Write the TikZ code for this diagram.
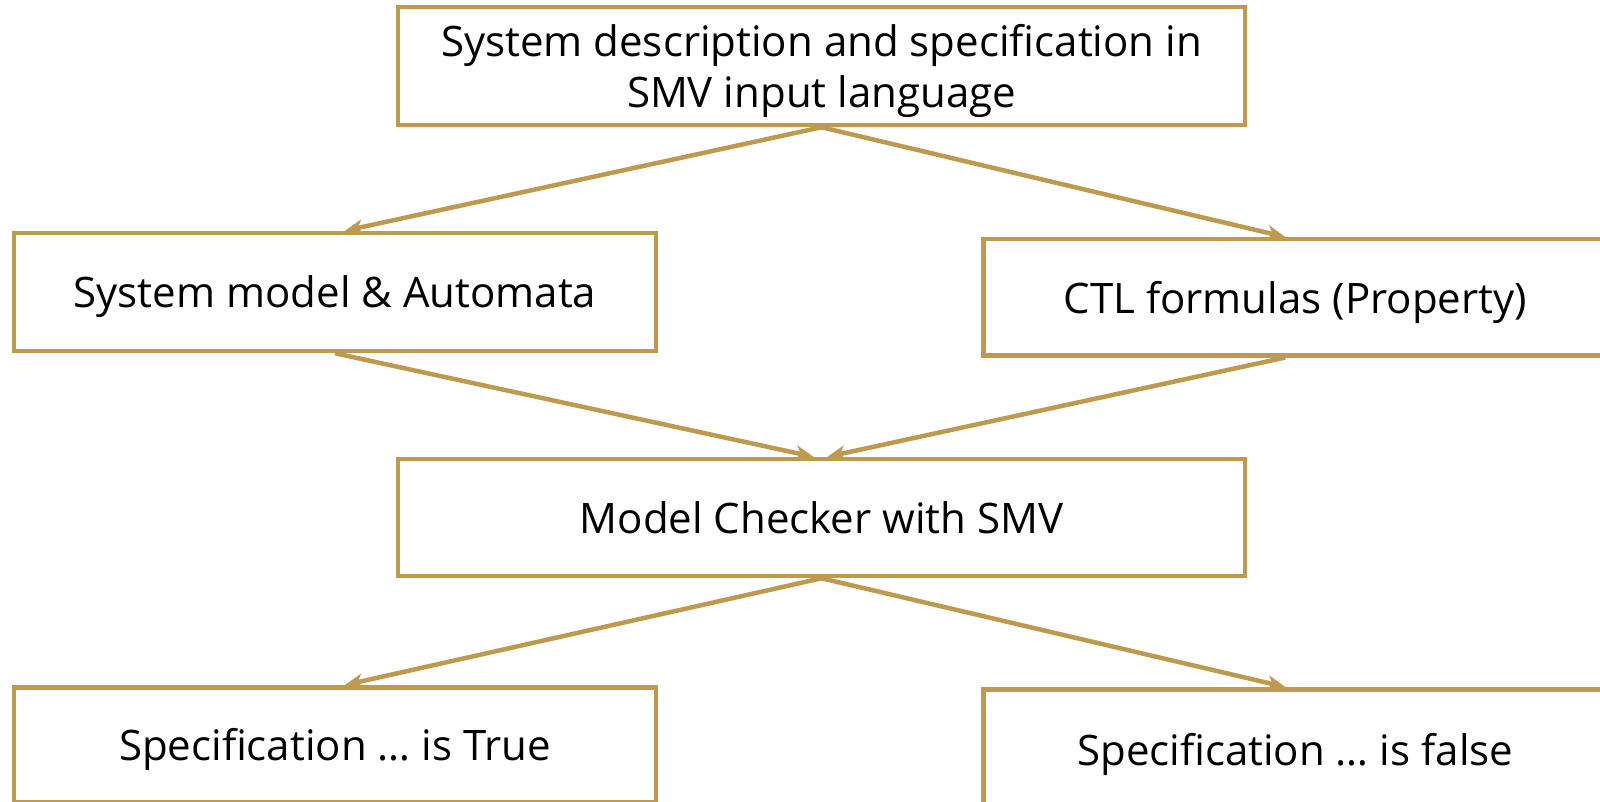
\documentclass[tikz,border=0pt]{standalone}
\usepackage{fontspec}
\setmainfont{Open Sans}
\usetikzlibrary{arrows.meta}
\definecolor{gold}{HTML}{BF9A4E}
\tikzset{
  box/.style={draw=gold, line width=4.5pt, fill=white, inner sep=0pt, align=center, text depth=0pt, font=\fontsize{42}{51}\selectfont},
  conn/.style={draw=gold, line width=4.5pt, -{Stealth[length=18pt,width=15pt,inset=5pt]}}
}
\begin{document}
\begin{tikzpicture}[x=1pt,y=-1pt]
\useasboundingbox (0,0) rectangle (1600,802);
\node[box, minimum width=847pt, minimum height=118pt] (top) at (821.5,66) {System description and specification in\\SMV input language};
\node[box, minimum width=642pt, minimum height=118pt] (sys) at (335,292) {System model \& Automata};
\node[box, minimum width=624pt, minimum height=116pt, anchor=north west] (ctl) at (981,237) {CTL formulas (Property)};
\node[box, minimum width=847pt, minimum height=117pt] (mc) at (821.5,517.5) {Model Checker with SMV};
\node[box, minimum width=642pt, minimum height=115pt, anchor=north] (tr) at (335,685) {Specification … is True};
\node[box, minimum width=624pt, minimum height=120pt, anchor=north west] (fl) at (981,687) {Specification … is false};
\coordinate (mcl) at ([xshift=-8pt]mc.north);
\coordinate (mcr) at ([xshift=6pt]mc.north);
\draw[conn] (top.south) -- ([xshift=10pt]sys.north);
\draw[conn] (top.south) -- ([xshift=-10pt]ctl.north);
\draw[conn] (sys.south) -- (mcl);
\draw[conn] ([xshift=-10pt]ctl.south) -- (mcr);
\draw[conn] (mc.south) -- ([xshift=10pt]tr.north);
\draw[conn] (mc.south) -- ([xshift=-10pt]fl.north);
\end{tikzpicture}
\end{document}
